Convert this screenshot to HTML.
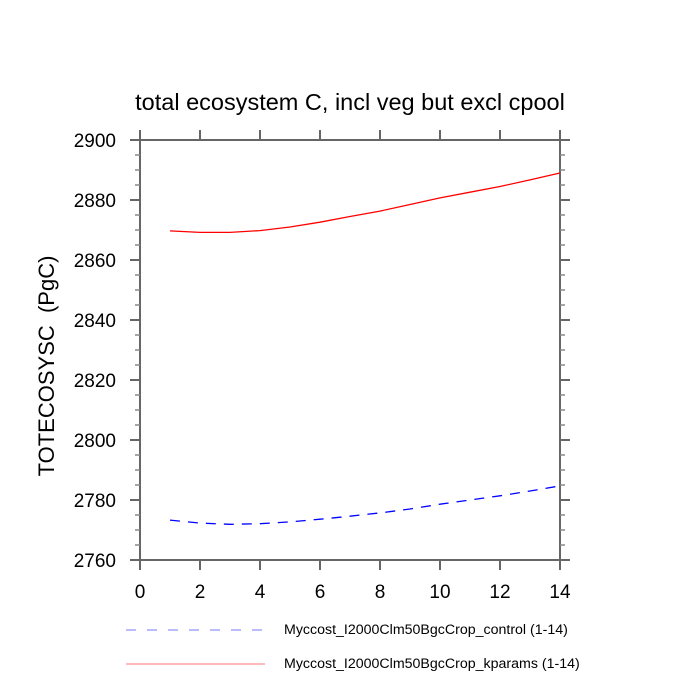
<!DOCTYPE html>
<html><head><style>body{margin:0;background:#fff}svg{display:block}</style></head><body>
<svg width="700" height="700" xmlns="http://www.w3.org/2000/svg" font-family="Liberation Sans, sans-serif">
<text x="350" y="110" font-size="23.5" text-anchor="middle">total ecosystem C, incl veg but excl cpool</text>
<g stroke="#666" stroke-width="2" fill="none">
<rect x="140" y="140" width="420" height="420"/>
<path d="M140 140v-10M200 140v-10M260 140v-10M320 140v-10M380 140v-10M440 140v-10M500 140v-10M560 140v-10
M140 560v10M200 560v10M260 560v10M320 560v10M380 560v10M440 560v10M500 560v10M560 560v10
M140 140h-10M140 200h-10M140 260h-10M140 320h-10M140 380h-10M140 440h-10M140 500h-10M140 560h-10
M560 140h10M560 200h10M560 260h10M560 320h10M560 380h10M560 440h10M560 500h10M560 560h10"/>
<path stroke="#888" stroke-width="1.5" d="M140 155h-5M140 170h-5M140 185h-5M140 215h-5M140 230h-5M140 245h-5M140 275h-5M140 290h-5M140 305h-5M140 335h-5M140 350h-5M140 365h-5M140 395h-5M140 410h-5M140 425h-5M140 455h-5M140 470h-5M140 485h-5M140 515h-5M140 530h-5M140 545h-5
M560 155h5M560 170h5M560 185h5M560 215h5M560 230h5M560 245h5M560 275h5M560 290h5M560 305h5M560 335h5M560 350h5M560 365h5M560 395h5M560 410h5M560 425h5M560 455h5M560 470h5M560 485h5M560 515h5M560 530h5M560 545h5"/>
</g>
<g font-size="19" text-anchor="end">
<text x="116" y="147">2900</text><text x="116" y="207">2880</text><text x="116" y="267">2860</text><text x="116" y="327">2840</text><text x="116" y="387">2820</text><text x="116" y="447">2800</text><text x="116" y="507">2780</text><text x="116" y="567">2760</text>
</g>
<g font-size="19" text-anchor="middle">
<text x="140" y="598">0</text><text x="200" y="598">2</text><text x="260" y="598">4</text><text x="320" y="598">6</text><text x="380" y="598">8</text><text x="440" y="598">10</text><text x="500" y="598">12</text><text x="560" y="598">14</text>
</g>
<text transform="translate(54 366) rotate(-90)" font-size="22" text-anchor="middle">TOTECOSYSC&#160; (PgC)</text>
<polyline fill="none" stroke="red" stroke-width="1.3" points="170,230.9 200,232.4 230,232.4 260,230.6 290,227 320,222.2 350,216.5 380,211.1 410,204.5 440,197.9 470,192.2 500,186.5 530,179.9 560,173"/>
<polyline fill="none" stroke="blue" stroke-width="1.3" stroke-dasharray="10,8" points="170,520.1 200,523.1 230,524.3 260,523.7 290,521.9 320,519.2 350,516.2 380,512.9 410,509 440,504.2 470,500 500,495.8 530,491 560,485.9"/>
<line x1="126" y1="630" x2="262" y2="630" stroke="#7777ff" stroke-width="1" stroke-dasharray="10,11"/>
<line x1="126" y1="664" x2="265" y2="664" stroke="#ff7777" stroke-width="1"/>
<text x="284" y="634" font-size="14.2">Myccost_I2000Clm50BgcCrop_control (1-14)</text>
<text x="284" y="668" font-size="14.2">Myccost_I2000Clm50BgcCrop_kparams (1-14)</text>
</svg>
</body></html>
